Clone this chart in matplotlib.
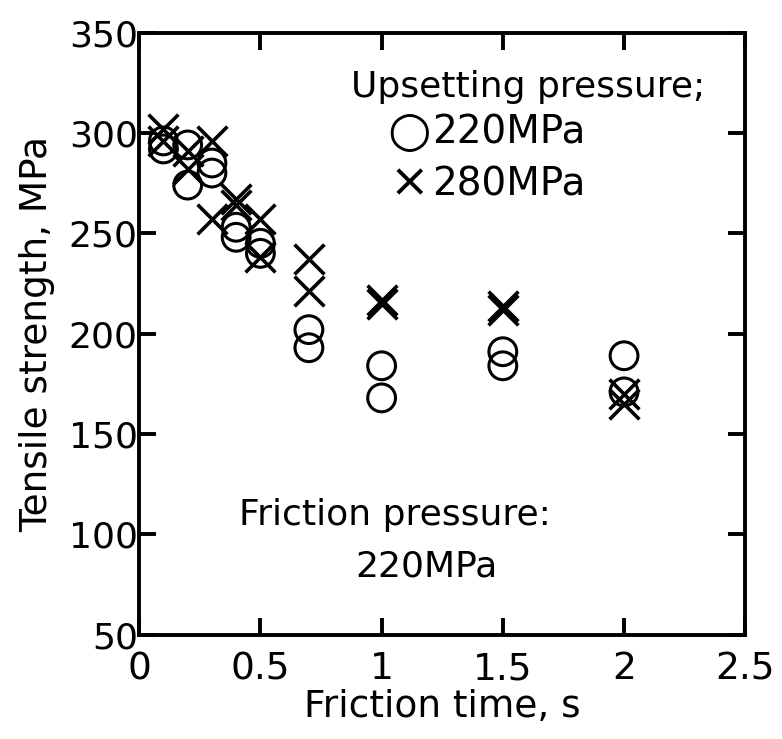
import matplotlib
matplotlib.use("Agg")
import matplotlib.pyplot as plt

plt.rcParams['font.family'] = ['DejaVu Sans']

# tensile strength (MPa) vs friction time (s), friction pressure 220 MPa
time_220 = [0.1, 0.1, 0.2, 0.2, 0.3, 0.3, 0.4, 0.4, 0.5, 0.5,
            0.7, 0.7, 1.0, 1.0, 1.5, 1.5, 2.0, 2.0]
ts_220 = [296, 292, 294, 274, 285, 280, 253, 248, 245, 240,
          202, 193, 184, 168, 191, 184, 189, 171]

time_280 = [0.1, 0.1, 0.2, 0.2, 0.3, 0.3, 0.4, 0.4, 0.5, 0.5,
            0.7, 0.7, 1.0, 1.0, 1.5, 1.5, 2.0, 2.0]
ts_280 = [302, 296, 291, 282, 296, 257, 267, 264, 257, 238,
          237, 221, 217, 215, 214, 212, 170, 165]

xticks = [0, 0.5, 1, 1.5, 2, 2.5]
xticklabels = ['0', '0.5', '1', '1.5', '2', '2.5']
yticks = [50, 100, 150, 200, 250, 300, 350]

fig = plt.figure(figsize=(7.82, 7.39), dpi=100)
ax = fig.add_axes([0.178, 0.141, 0.775, 0.815])

ax.scatter(time_220, ts_220, s=400, facecolors='none', edgecolors='black',
           linewidths=2.2, marker='o', zorder=3)
ax.scatter(time_280, ts_280, s=460, color='black', linewidths=2.6,
           marker='x', zorder=3)

ax.set_xlim(0, 2.5)
ax.set_ylim(50, 350)
ax.set_xticks(xticks)
ax.set_xticklabels(xticklabels)
ax.set_yticks(yticks)

for sp in ax.spines.values():
    sp.set_linewidth(2.8)
ax.tick_params(direction='in', length=12, width=2.8, top=True, right=True,
               labelsize=27)
ax.tick_params(axis='x', pad=12)
ax.tick_params(axis='y', pad=1, labelsize=26)
ax.set_xlabel('Friction time, s', fontsize=27, labelpad=1)
ax.set_ylabel('Tensile strength, MPa', fontsize=27, labelpad=10)

# legend drawn as text
ax.text(0.934, 0.91, 'Upsetting pressure;', transform=ax.transAxes,
        fontsize=26, ha='right', va='center')
ax.text(0.445, 0.834, '\u25cb', transform=ax.transAxes,
        fontsize=36, ha='center', va='center')
ax.text(0.484, 0.834, '220MPa', transform=ax.transAxes,
        fontsize=28, ha='left', va='center')
ax.text(0.445, 0.748, '\u00d7', transform=ax.transAxes,
        fontsize=34, ha='center', va='center')
ax.text(0.484, 0.748, '280MPa', transform=ax.transAxes,
        fontsize=28, ha='left', va='center')

ax.text(0.422, 0.199, 'Friction pressure:', transform=ax.transAxes,
        fontsize=26, ha='center', va='center')
ax.text(0.356, 0.113, '220MPa', transform=ax.transAxes,
        fontsize=26, ha='left', va='center')

fig.savefig('out.png', dpi=100)
